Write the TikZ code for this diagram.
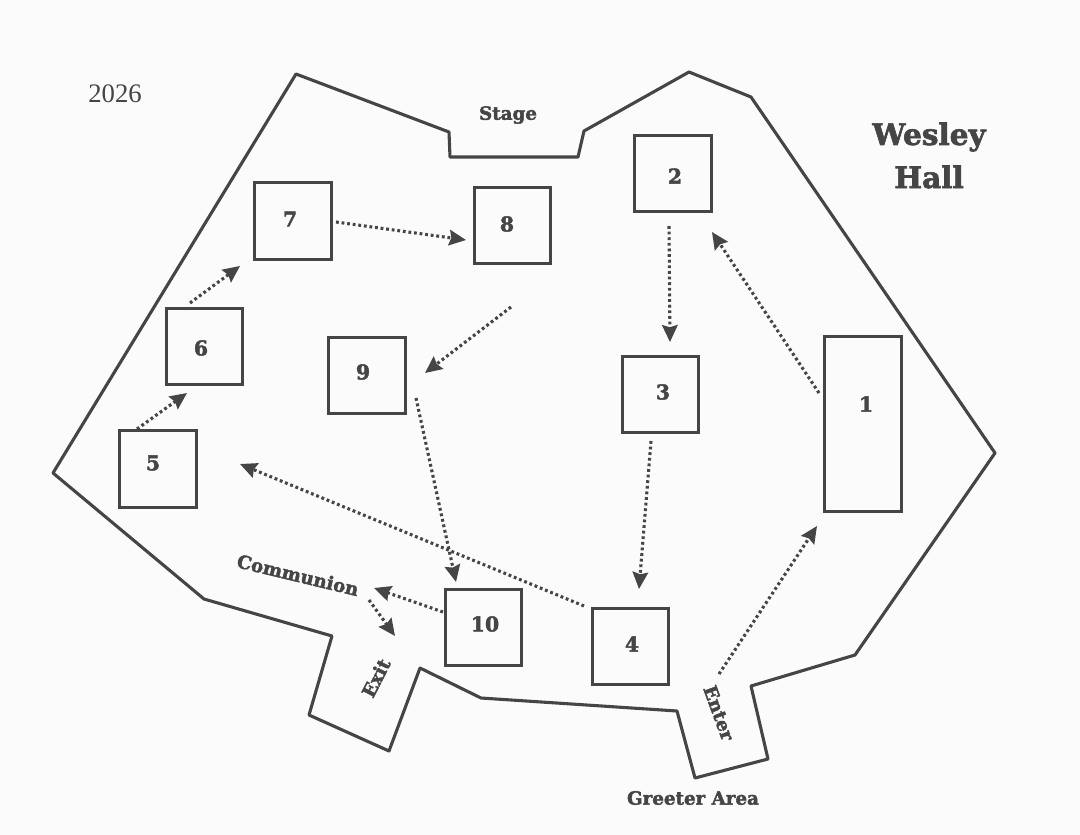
\documentclass[tikz,border=0pt]{standalone}
\usepackage{fontspec}
\usepackage{tikz}
\usetikzlibrary{arrows.meta}
\setmainfont{Liberation Serif}
\newfontfamily\heavyfont{DejaVu Serif Bold}[FakeBold=2.2]
\definecolor{inkgray}{HTML}{454545}
\definecolor{paper}{HTML}{FBFBFB}
\tikzset{
  stallbox/.style={draw=inkgray, line width=2.2pt, inner sep=0pt},
  stallnum/.style={text=inkgray, font=\heavyfont\fontsize{14.5}{16}\selectfont},
  place/.style={text=inkgray, font=\heavyfont\fontsize{13}{15}\selectfont},
  walk/.style={draw=inkgray, line width=2.2pt, dash pattern=on 2pt off 2pt, -{Stealth[length=12pt,width=11pt,inset=1.5pt]}},
}
\begin{document}
\begin{tikzpicture}[x=0.025cm, y=-0.025cm]
  \fill[paper] (0,0) rectangle (1080,835);
  \useasboundingbox (0,0) rectangle (1080,835);
  % hall outline
  \draw[inkgray, line width=2.2pt, line join=round] (296,74) -- (449,132) -- (450,157) -- (578,157) -- (584,131)
    -- (689,72) -- (751,97) -- (995,453) -- (855,655) -- (751,686) -- (768,759) -- (695,778) -- (677,711)
    -- (481,698) -- (420,668) -- (389,751) -- (309,715) -- (332,636) -- (204,599) -- (53,473) -- cycle;
  % stalls
  \node[stallbox, minimum width=54.5pt, minimum height=125pt] (s1) at (863,424) {};
  \node[stallbox, minimum width=54.5pt, minimum height=54.5pt] (s2) at (673,173.5) {};
  \node[stallbox, minimum width=54.5pt, minimum height=54.5pt] (s3) at (660.5,394.5) {};
  \node[stallbox, minimum width=54.5pt, minimum height=54.5pt] (s4) at (630.5,646.5) {};
  \node[stallbox, minimum width=54.5pt, minimum height=54.5pt] (s5) at (158,469) {};
  \node[stallbox, minimum width=54.5pt, minimum height=54.5pt] (s6) at (204.5,346.5) {};
  \node[stallbox, minimum width=54.5pt, minimum height=54.5pt] (s7) at (293,221) {};
  \node[stallbox, minimum width=54.5pt, minimum height=54.5pt] (s8) at (512.5,225.5) {};
  \node[stallbox, minimum width=54.5pt, minimum height=54.5pt] (s9) at (367,375.5) {};
  \node[stallbox, minimum width=54.5pt, minimum height=54.5pt] (s10) at (483.5,627.5) {};
  % stall numbers
  \node[stallnum] (n1) at (866,404) {1};
  \node[stallnum] (n2) at (675,176) {2};
  \node[stallnum] (n3) at (663,392) {3};
  \node[stallnum] (n4) at (632,644) {4};
  \node[stallnum] (n5) at (153,463) {5};
  \node[stallnum] (n6) at (201,348) {6};
  \node[stallnum] (n7) at (290,219) {7};
  \node[stallnum] (n8) at (507,224) {8};
  \node[stallnum] (n9) at (363,372) {9};
  \node[stallnum] (n10) at (485,624) {10};
  % texts
  \node[text=inkgray, font=\fontsize{19}{21}\selectfont] (year) at (115,94) {2026};
  \node[text=inkgray, font=\heavyfont\fontsize{21}{24}\selectfont] (wesley) at (929,137) {Wesley};
  \node[text=inkgray, font=\heavyfont\fontsize{21}{24}\selectfont] (hall) at (929,177) {Hall};
  \node[place] (stage) at (508,115) {Stage};
  \node[place, rotate=-13.5] (communion) at (298,575) {Communion};
  \node[place, rotate=63] (exit) at (376,678) {Exit};
  \node[place, rotate=-70] (enter) at (719,713) {Enter};
  \node[place] (greeter) at (693,798) {Greeter Area};
  % walking order
  \coordinate (a1) at (819,393);  \coordinate (b1) at (712,232);
  \coordinate (a2) at (669,226);  \coordinate (b2) at (670,342);
  \coordinate (a3) at (651,441);  \coordinate (b3) at (639,589);
  \coordinate (a4) at (584,606);  \coordinate (b4) at (240,464);
  \coordinate (a5) at (137,429);  \coordinate (b5) at (187,393);
  \coordinate (a6) at (190,303);  \coordinate (b6) at (240,266);
  \coordinate (a7) at (336,222);  \coordinate (b7) at (466,240);
  \coordinate (a8) at (511,307);  \coordinate (b8) at (425,373);
  \coordinate (a9) at (416,398);  \coordinate (b9) at (456,582);
  \coordinate (a10) at (443,612); \coordinate (b10) at (374,588);
  \coordinate (a11) at (369,600); \coordinate (b11) at (395,636);
  \coordinate (a12) at (719,674); \coordinate (b12) at (817,526);
  \draw[walk] (a1) -- (b1);
  \draw[walk] (a2) -- (b2);
  \draw[walk] (a3) -- (b3);
  \draw[walk] (a4) -- (b4);
  \draw[walk] (a5) -- (b5);
  \draw[walk] (a6) -- (b6);
  \draw[walk] (a7) -- (b7);
  \draw[walk] (a8) -- (b8);
  \draw[walk] (a9) -- (b9);
  \draw[walk] (a10) -- (b10);
  \draw[walk] (a11) -- (b11);
  \draw[walk] (a12) -- (b12);
\end{tikzpicture}
\end{document}
